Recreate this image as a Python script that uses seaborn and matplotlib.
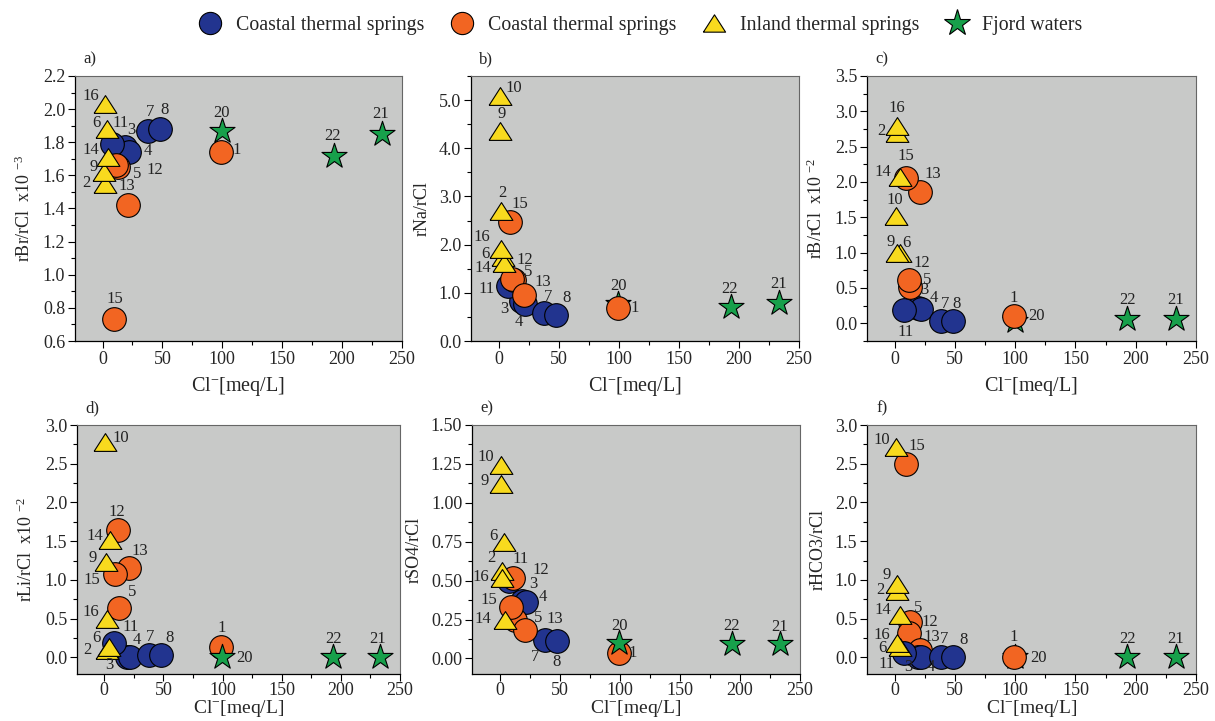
import numpy as np
import pandas as pd
import matplotlib
matplotlib.use('Agg')
import matplotlib.pyplot as plt
from matplotlib.lines import Line2D
from matplotlib.ticker import MultipleLocator, FormatStrFormatter
import seaborn as sns

# ---------------- data ----------------
samples = [1, 2, 3, 4, 5, 6, 7, 8, 9, 10, 11, 12, 13, 14, 15, 16, 20, 21, 22]
groups = ['B', 'C', 'A', 'A', 'B', 'C', 'A', 'A', 'C', 'C', 'A', 'B', 'B', 'C', 'B', 'C', 'D', 'D', 'D']
cl = [99, 2, 19, 22, 12.5, 4, 38, 48, 1.5, 1, 8, 11.5, 21, 4.5, 9.5, 2.2, 99.5, 233, 193]
br = [1.74, 1.55, 1.77, 1.74, 1.65, 1.88, 1.87, 1.88, 1.62, np.nan, 1.79, 1.66, 1.42, 1.71, 0.73, 2.03, 1.87, 1.85, 1.72]
na = [0.69, 2.69, 0.84, 0.76, 1.26, 1.75, 0.59, 0.53, 4.36, 5.08, 1.15, 1.28, 0.96, 1.62, 2.47, 1.91, 0.77, 0.79, 0.70]
bor = [0.11, 2.69, 0.21, 0.20, 0.52, 1.00, 0.04, 0.04, 1.00, 1.52, 0.19, 0.62, 1.86, 2.07, 2.05, 2.79, 0.03, 0.06, 0.06]
li = [0.13, 0.10, 0.01, 0.01, 0.64, 0.14, 0.03, 0.03, 1.23, 2.78, 0.18, 1.65, 1.16, 1.51, 1.07, 0.50, 0.0, 0.0, 0.0]
so4 = [0.035, 0.56, 0.37, 0.36, 0.25, 0.75, 0.12, 0.11, 1.12, 1.24, 0.50, 0.52, 0.18, 0.25, 0.33, 0.52, 0.10, 0.09, 0.09]
hco3 = [0.0, 0.86, 0.01, 0.0, 0.46, 0.14, 0.0, 0.0, 0.95, 2.72, 0.06, 0.31, 0.10, 0.55, 2.50, 0.18, 0.0, 0.0, 0.0]

group_names = {'A': 'Coastal thermal springs', 'B': 'Coastal thermal springs',
               'C': 'Inland thermal springs', 'D': 'Fjord waters'}
ylabels = ['rBr/rCl  x10 $^{-3}$', 'rNa/rCl', 'rB/rCl  x10 $^{-2}$',
           'rLi/rCl  x10 $^{-2}$', 'rSO4/rCl', 'rHCO3/rCl']
letters = ['a)', 'b)', 'c)', 'd)', 'e)', 'f)']
xlabel = 'Cl$^{-}$[meq/L]'

df = pd.DataFrame({'sample': samples, 'group': groups, 'cl': cl, 'br': br, 'na': na,
                   'bor': bor, 'li': li, 'so4': so4, 'hco3': hco3})

# ---------------- styles ----------------
colors = {'A': '#22348f', 'B': '#f26522', 'C': '#f8da1e', 'D': '#17a04b'}
tri = [(-1, -0.78), (1, -0.78), (0, 0.78), (-1, -0.78)]
markers = {'A': 'o', 'B': 'o', 'C': tri, 'D': '*'}
sizes = {'A': 290, 'B': 290, 'C': 270, 'D': 360}

W, H = 1215, 721
boxes = [(75, 76, 402, 341), (471, 76, 799, 341), (867, 76, 1196, 341),
         (77, 425, 400, 674), (472, 425, 800, 674), (867, 425, 1196, 674)]
ylims = [(0.6, 2.2), (0.0, 5.5), (-0.25, 3.5), (-0.215, 3.0), (-0.1, 1.5), (-0.215, 3.0)]
majors = [0.2, 1.0, 0.5, 0.5, 0.25, 0.5]
fmts = ['%.1f', '%.1f', '%.1f', '%.1f', '%.2f', '%.1f']
cols = ['br', 'na', 'bor', 'li', 'so4', 'hco3']
orders = [['A', 'B', 'C', 'D'], ['A', 'D', 'B', 'C'], ['A', 'D', 'B', 'C'],
          ['A', 'B', 'C', 'D'], ['A', 'B', 'C', 'D'], ['D', 'B', 'A', 'C']]
xlabelpads = [5, 5, 5, -1, -1, -1]
xlabelsizes = [14.5, 14.5, 14.5, 14, 14, 14]
xtickpads = [2, 2, 2, 1, 1, 1]

# label offsets in pixels (dx, dy up)
offsets = [
    {16: (-14, 8), 6: (-11, 6), 11: (8, 21), 3: (6, 17), 4: (19, 1), 7: (2, 19), 8: (5, 19),
     20: (0, 18), 1: (16, 2), 22: (-1, 19), 21: (-1, 20), 14: (-17, 7), 9: (-11, 5),
     2: (-19, 1), 5: (20, -7), 12: (38, -5), 13: (-1, 19), 15: (1, 20)},
    {10: (14, 8), 9: (1, 17), 2: (1, 18), 15: (10, 18), 16: (-19, 12), 6: (-18, 3),
     14: (-21, -5), 12: (12, 19), 5: (14, 8), 13: (19, 13), 11: (-22, -3), 3: (-17, -8),
     4: (-6, -18), 7: (4, 16), 8: (10, 17), 20: (0, 18), 1: (17, 0), 22: (-1, 18), 21: (0, 19)},
    {16: (-1, 18), 2: (-16, 2), 15: (0, 22), 13: (13, 18), 14: (-17, 5), 10: (-1, 16),
     9: (-6, 11), 6: (7, 10), 12: (13, 17), 5: (17, 7), 3: (7, 18), 4: (13, 11), 11: (1, -22),
     7: (5, 17), 8: (4, 17), 1: (0, 18), 20: (22, 5), 22: (0, 19), 21: (0, 19)},
    {10: (15, 4), 12: (-1, 18), 14: (-15, 4), 13: (11, 17), 9: (-13, 4), 15: (-24, -6),
     5: (13, 16), 16: (-16, 7), 11: (17, 16), 6: (-13, 9), 2: (-19, 0), 3: (-17, -8),
     4: (7, 17), 7: (1, 18), 8: (9, 17), 1: (0, 19), 20: (23, -1), 22: (1, 18), 21: (-2, 18)},
    {10: (-15, 8), 9: (-17, 3), 6: (-11, 6), 2: (-11, 13), 11: (11, 22), 12: (27, 8),
     16: (-21, 1), 3: (11, 17), 4: (17, 5), 15: (-22, 7), 14: (-22, 1), 5: (23, 2),
     13: (30, 11), 7: (-10, -17), 8: (-1, -21), 20: (0, 17), 1: (14, 0), 22: (0, 18), 21: (0, 17)},
    {10: (-14, 7), 15: (11, 18), 9: (-10, 9), 2: (-17, 1), 14: (-17, 5), 5: (8, 14),
     12: (21, 11), 16: (-16, 8), 6: (-17, -1), 11: (-18, -11), 13: (12, 13), 7: (4, 18),
     8: (11, 17), 3: (-9, -10), 4: (10, -10), 1: (0, 20), 20: (24, -1), 22: (0, 18), 21: (0, 18)},
]

sns.set_theme(style='ticks')
plt.rcParams['font.family'] = ['Liberation Serif', 'DejaVu Serif']
plt.rcParams['mathtext.default'] = 'regular'
plt.rcParams['mathtext.fontset'] = 'custom'
plt.rcParams['mathtext.rm'] = 'Liberation Serif'

fig = plt.figure(figsize=(W / 100, H / 100), dpi=100)
fig.patch.set_facecolor('white')

for i in range(6):
    l, t, r, b = boxes[i]
    ax = fig.add_axes([l / W, 1 - b / H, (r - l) / W, (b - t) / H])
    ax.set_facecolor('#c8c9c8')
    col = cols[i]
    for z, g in enumerate(orders[i]):
        sub = df[(df['group'] == g) & df[col].notna()]
        sns.scatterplot(data=sub, x='cl', y=col, ax=ax, color=colors[g], marker=markers[g],
                        s=sizes[g], edgecolor='black', linewidth=0.8, legend=False,
                        zorder=3 + z, clip_on=False)
    for _, row in df[df[col].notna()].iterrows():
        s = int(row['sample'])
        dx, dy = offsets[i].get(s, (0, 18))
        ax.annotate(str(s), (row['cl'], row[col]), xytext=(dx, dy), textcoords='offset pixels',
                    ha='center', va='center', fontsize=12, color='#222222', zorder=10)
    ax.set_xlim(-23, 250)
    ax.set_ylim(*ylims[i])
    ax.xaxis.set_major_locator(MultipleLocator(50))
    ax.xaxis.set_minor_locator(MultipleLocator(25))
    ax.yaxis.set_major_locator(MultipleLocator(majors[i]))
    ax.yaxis.set_minor_locator(MultipleLocator(majors[i] / 2))
    ax.yaxis.set_major_formatter(FormatStrFormatter(fmts[i]))
    ax.tick_params(axis='both', which='major', direction='out', length=5, width=0.8,
                   labelsize=13, color='black', pad=2)
    ax.tick_params(axis='x', which='major', pad=xtickpads[i])
    ax.tick_params(axis='both', which='minor', direction='out', length=3, width=0.8, color='black')
    for sp in ['left', 'bottom']:
        ax.spines[sp].set_color('black')
        ax.spines[sp].set_linewidth(0.9)
    for sp in ['top', 'right']:
        ax.spines[sp].set_color('#666666')
        ax.spines[sp].set_linewidth(0.8)
    ax.set_xlabel(xlabel, fontsize=xlabelsizes[i], labelpad=xlabelpads[i])
    ax.set_ylabel(ylabels[i], fontsize=13, labelpad=6)
    ax.annotate(letters[i], xy=(0, 1), xycoords='axes fraction', xytext=(15, 17),
                textcoords='offset pixels', ha='center', va='center', fontsize=12)

handles = []
for g in ['A', 'B', 'C', 'D']:
    handles.append(Line2D([], [], linestyle='none', marker=markers[g], markersize=16 if g != 'D' else 20,
                          markerfacecolor=colors[g], markeredgecolor='black', markeredgewidth=0.8,
                          label=group_names[g]))
fig.legend(handles=handles, loc='center', bbox_to_anchor=(0.527, 0.965), ncol=4, frameon=False,
           fontsize=14.3, handletextpad=0.7, columnspacing=1.3, handlelength=1.2)

fig.savefig('out.png', dpi=100)
